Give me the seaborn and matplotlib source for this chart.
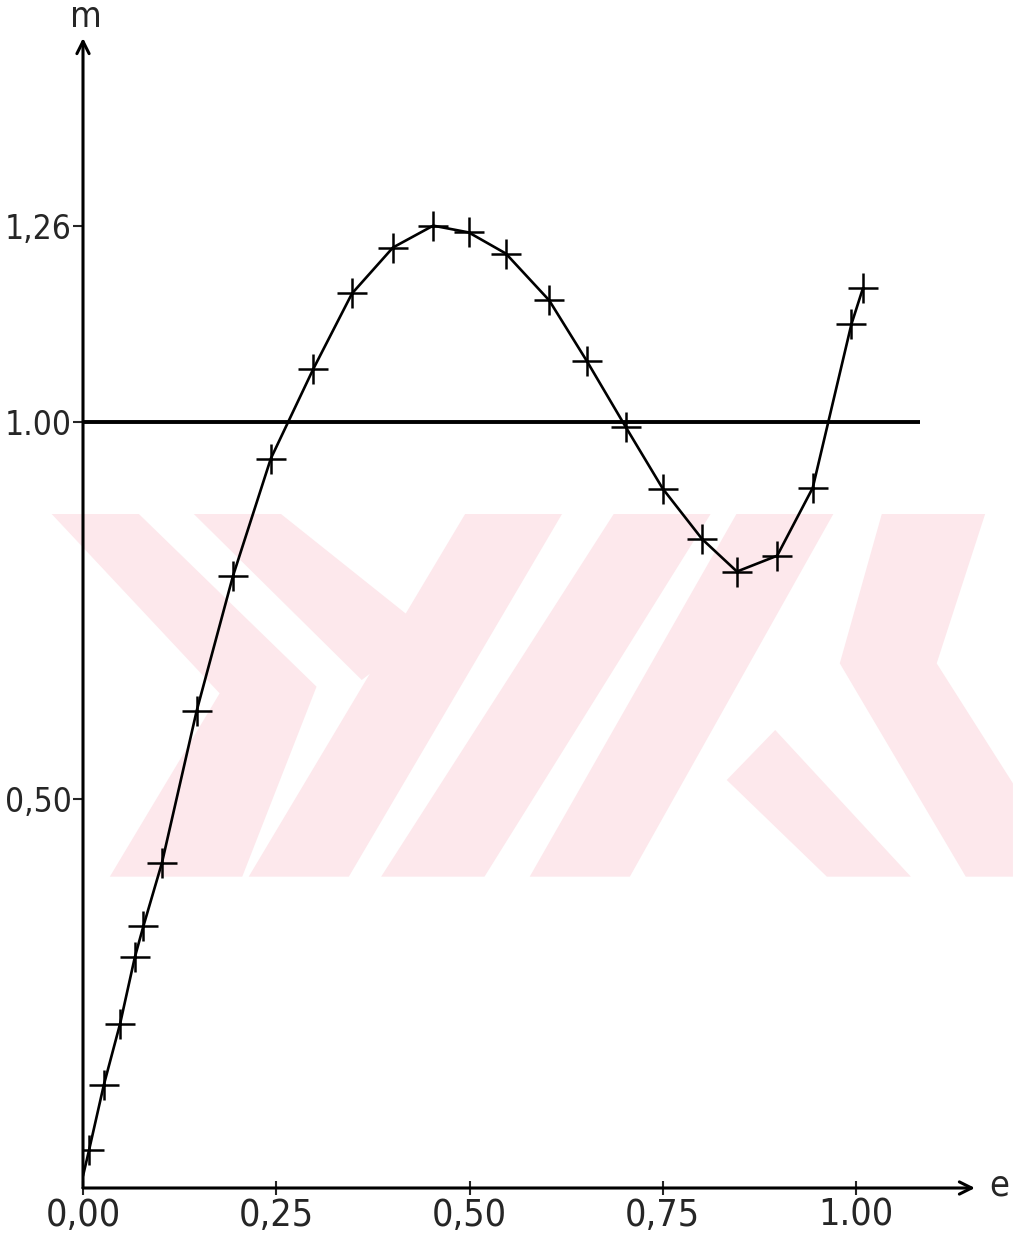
import matplotlib
matplotlib.use("Agg")
import matplotlib.pyplot as plt
from matplotlib.patches import Polygon
import seaborn as sns

# measured points (e, m)
e = [0.008, 0.027, 0.048, 0.067, 0.078, 0.102, 0.147, 0.194, 0.243, 0.298,
     0.348, 0.401, 0.453, 0.499, 0.547, 0.603, 0.652, 0.702, 0.750, 0.801,
     0.846, 0.898, 0.944, 0.994, 1.009]
m = [0.035, 0.121, 0.202, 0.290, 0.331, 0.415, 0.617, 0.796, 0.952, 1.071,
     1.171, 1.232, 1.261, 1.252, 1.224, 1.162, 1.081, 0.994, 0.912, 0.845,
     0.802, 0.823, 0.913, 1.130, 1.178]

x_ticks = [0.0, 0.25, 0.50, 0.75, 1.00]
x_labels = ["0,00", "0,25", "0,50", "0,75", "1.00"]
y_ticks = [0.50, 1.00, 1.26]
y_labels = ["0,50", "1.00", "1,26"]
ref_level = 1.00
ref_end = 1.083

sns.set_style("white")
plt.rcParams["font.family"] = ["DejaVu Sans"]
plt.rcParams["font.stretch"] = "condensed"

W, H = 1013, 1245
fig = plt.figure(figsize=(W / 100, H / 100), dpi=100)
ax = fig.add_axes([83 / W, (H - 1188) / H, (975 - 83) / W, (1188 - 38) / H])
ax.patch.set_alpha(0)

# faint pink watermark in the background (zoom coords: x/1.548, y/3 + 490)
wm = [
    [(80, 72), (215, 72), (490, 590), (375, 1160), (170, 1160), (340, 610)],
    [(300, 72), (435, 72), (660, 420), (560, 570)],
    [(720, 72), (870, 72), (540, 1160), (385, 1160)],
    [(950, 72), (1100, 72), (750, 1160), (590, 1160)],
    [(1140, 72), (1290, 72), (975, 1160), (820, 1160)],
    [(1365, 72), (1525, 72), (1450, 520), (1568, 880), (1568, 1160),
     (1495, 1160), (1300, 520)],
    [(1200, 720), (1410, 1160), (1280, 1160), (1125, 870)],
]
for poly in wm:
    pts = [(zx / 1.548 / W, 1 - (zy / 3 + 490) / H) for zx, zy in poly]
    fig.add_artist(Polygon(pts, closed=True, transform=fig.transFigure,
                           facecolor=(0.992, 0.91, 0.925), edgecolor="none",
                           zorder=0))

sns.lineplot(x=[0.0] + e, y=[0.0] + m, color="black", lw=1.9, ax=ax,
             zorder=3, sort=False)
sns.scatterplot(x=e, y=m, marker="+", s=480, color="black", linewidth=1.8,
                ax=ax, zorder=4)
ax.hlines(ref_level, 0, ref_end, color="black", lw=2.8, zorder=3)

ax.set_xlim(0, (975 - 83) / 773)
ax.set_ylim(-0.016, 1.51)
for s in ax.spines.values():
    s.set_visible(False)

# axes drawn as arrows
ax.annotate("", xy=(1, 0), xytext=(0, 0), xycoords="axes fraction",
            arrowprops=dict(arrowstyle="->", lw=2.2, color="black",
                            mutation_scale=22, shrinkA=0, shrinkB=0))
ax.annotate("", xy=(0, 1), xytext=(0, 0), xycoords="axes fraction",
            arrowprops=dict(arrowstyle="->", lw=2.2, color="black",
                            mutation_scale=22, shrinkA=0, shrinkB=0))

ax.set_xticks(x_ticks)
ax.set_xticklabels(x_labels)
ax.set_yticks(y_ticks)
ax.set_yticklabels(y_labels)
ax.tick_params(axis="x", direction="inout", length=10, width=1.5,
               labelsize=27, pad=2, bottom=True)
ax.tick_params(axis="y", direction="out", length=7, width=1.5,
               labelsize=24, pad=1, left=True)

ax.annotate("m", xy=(0, 1), xycoords="axes fraction", xytext=(2, 3),
            textcoords="offset points", ha="center", va="bottom", fontsize=26)
ax.annotate("e", xy=(1, 0), xycoords="axes fraction", xytext=(10, 2),
            textcoords="offset points", ha="left", va="center", fontsize=26)

fig.savefig("out.png", dpi=100)
